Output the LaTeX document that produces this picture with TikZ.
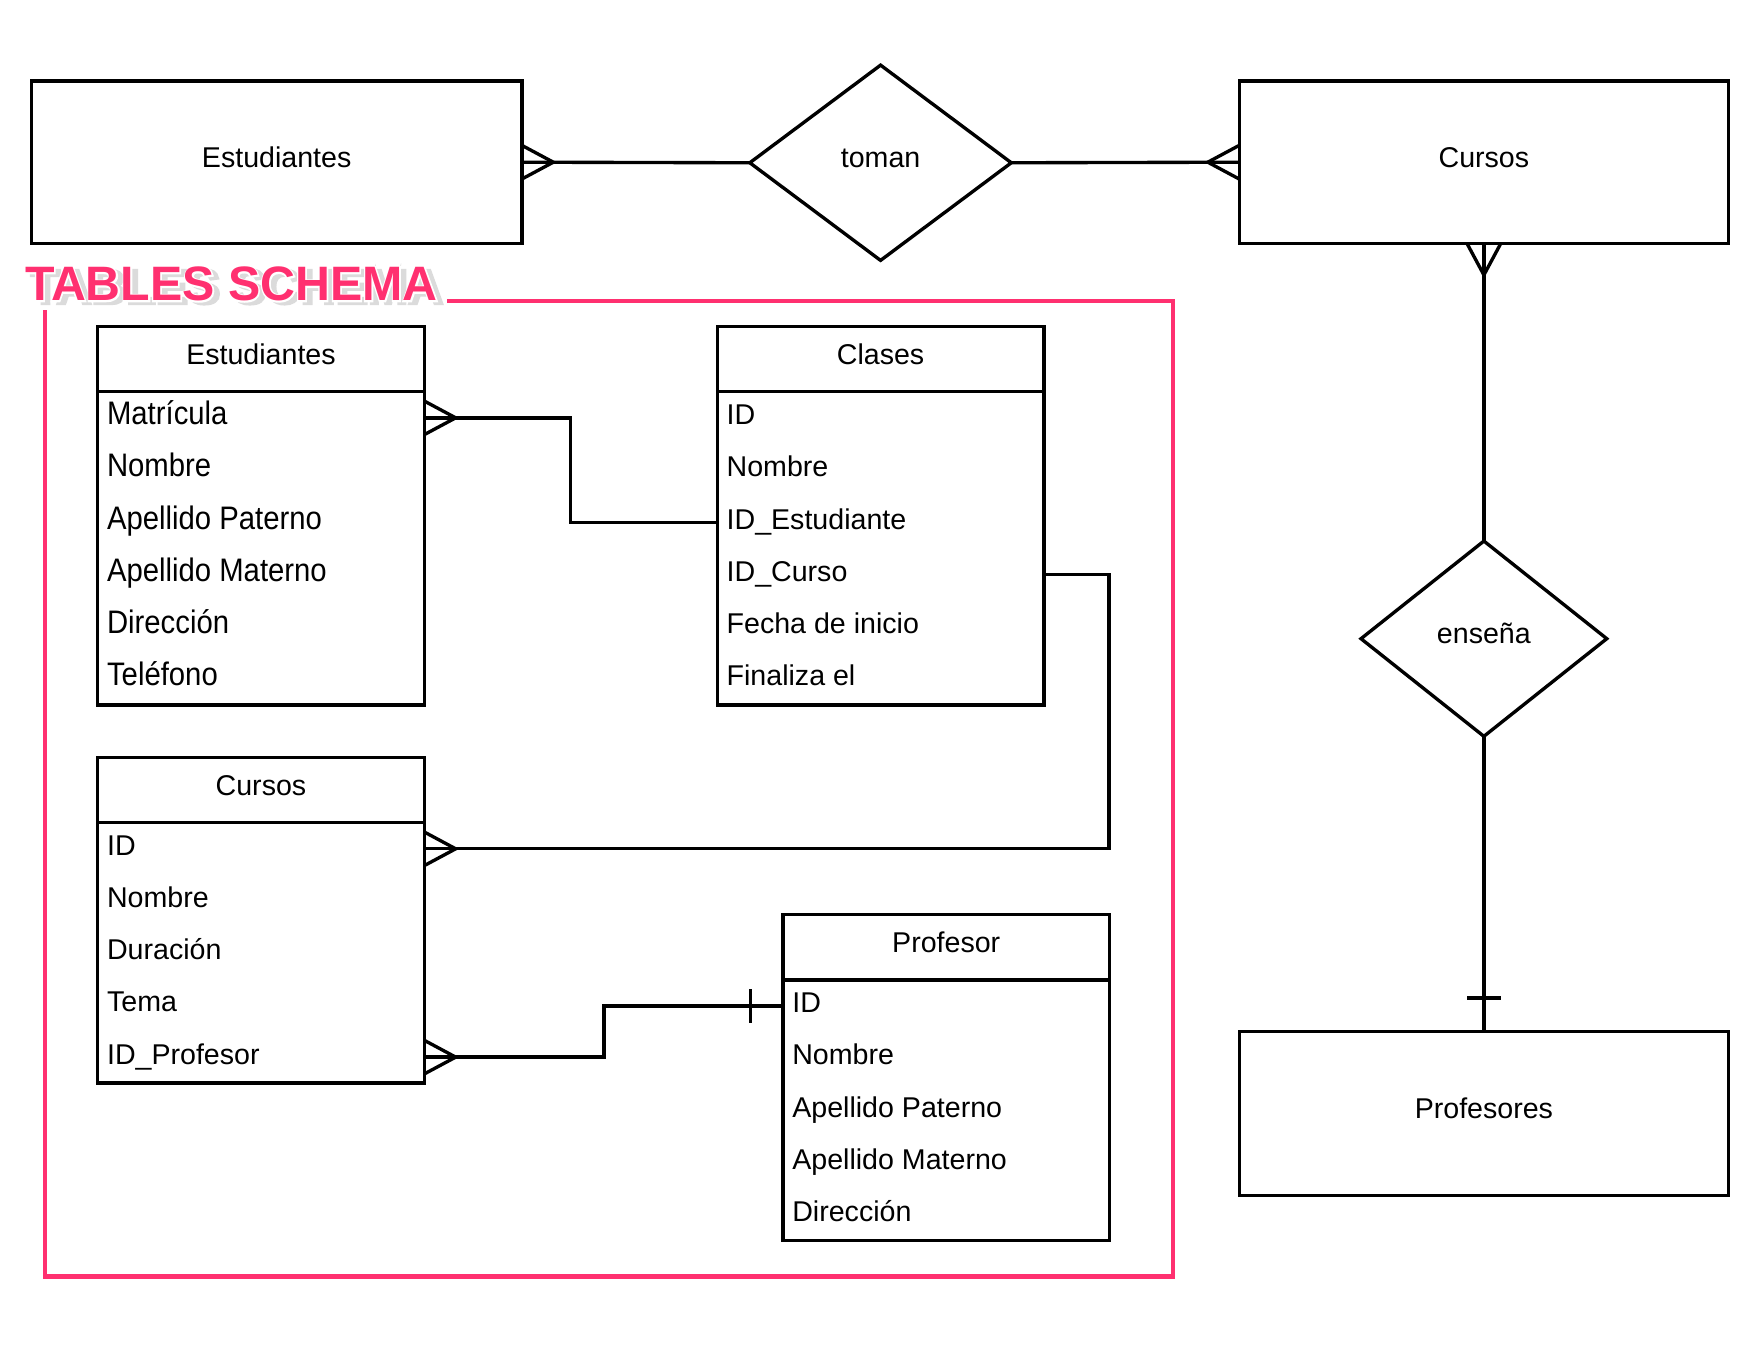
\documentclass[tikz,border=0pt]{standalone}
\usepackage{fontspec}
\setmainfont{Liberation Sans}
\newfontfamily\narrowfont[FakeStretch=0.9]{Liberation Sans}
\newfontfamily\halofont[FakeBold=6]{Liberation Sans Bold}
\usetikzlibrary{calc, positioning, shapes.geometric}
\definecolor{schemapink}{RGB}{255,48,112}
\tikzset{
  entity/.style={draw, line width=1.7pt, outer sep=0pt, minimum width=8.72cm, minimum height=2.9cm, text height=0.75em, text depth=0.25em, font=\fontsize{14.5}{17}\selectfont},
  relation/.style={draw, diamond, line width=1.7pt, outer sep=0pt, inner sep=0pt, minimum height=3.48cm, text height=0.75em, text depth=0.25em, font=\fontsize{14.5}{17}\selectfont},
  thead/.style={draw, line width=1.7pt, outer sep=0pt, minimum width=5.82cm, minimum height=1.16cm, text height=0.75em, text depth=0.25em, font=\fontsize{14.5}{17}\selectfont},
  tbody/.style={draw, line width=1.7pt, outer sep=0pt, minimum width=5.82cm},
  trow/.style={anchor=west, inner sep=0pt, text height=10pt, text depth=3pt, font=\fontsize{14.5}{17}\selectfont},
  conn/.style={line width=1.7pt},
  schemalabel/.style={anchor=base west, inner sep=0pt, font=\halofont\fontsize{24.5}{28}\selectfont},
}
\begin{document}
\begin{tikzpicture}[x=0.02cm, y=-0.02cm]
  \useasboundingbox (0,0) rectangle (1568,1211.6);
  % ER model
  \node[entity, minimum width=8.74cm] (estE) at (246.5,144.5) {Estudiantes};
  \node[relation, minimum width=4.66cm] (toman) at (784.5,145) {toman};
  \node[entity] (curE) at (1322,144.5) {Cursos};
  \node[relation, minimum width=4.38cm] (ense) at (1322,569) {enseña};
  \node[entity, minimum height=2.92cm] (profE) at (1322,992) {Profesores};
  \draw[conn] (estE.east) -- (toman.west);
  \draw[conn] ($(estE.east)+(0,-15)$) -- ++(28,15) -- ++(-28,15);
  \draw[conn] (toman.east) -- (curE.west);
  \draw[conn] ($(curE.west)+(0,-15)$) -- ++(-28,15) -- ++(28,15);
  \draw[conn] (curE.south) -- (ense.north);
  \draw[conn] ($(curE.south)+(-15,0)$) -- ++(15,28) -- ++(15,-28);
  \draw[conn] (ense.south) -- (profE.north);
  \draw[conn] ($(profE.north)+(-15,-30)$) -- ++(30,0);

  % Tables schema frame
  \draw[schemapink, line width=2.3pt] (40,268) rectangle (1045,1137);
  \node[schemalabel, fill=white, inner ysep=3pt, inner xsep=2pt, text=black!14] at (23.5,270.5) {TABLES SCHEMA};
  \node[schemalabel, text=white] (schemahalo) at (22,268) {TABLES SCHEMA};
  \node[schemalabel, text=schemapink, font=\bfseries\fontsize{24.5}{28}\selectfont] (schema) at (22,268) {TABLES SCHEMA};

  % Estudiantes
  \node[thead] (estH) at (232.5,320) {Estudiantes};
  \node[tbody, minimum height=5.58cm, below=0pt of estH] (estB) {};
  \foreach \t [count=\i] in {Matrícula, Nombre, Apellido Paterno, Apellido Materno, Dirección, Teléfono}
    \node[trow, font=\narrowfont\fontsize{16.5}{19}\selectfont] (est\i) at ($(estB.north west)+(8,{46.5*\i-23.25})$) {\t};

  % Clases
  \node[thead] (clH) at (784.5,320) {Clases};
  \node[tbody, minimum height=5.58cm, below=0pt of clH] (clB) {};
  \foreach \t [count=\i] in {ID, Nombre, ID\_Estudiante, ID\_Curso, Fecha de inicio, Finaliza el}
    \node[trow] (cl\i) at ($(clB.north west)+(8,{46.5*\i-23.25})$) {\t};

  % Cursos
  \node[thead] (curH) at (232.5,704) {Cursos};
  \node[tbody, minimum height=4.64cm, below=0pt of curH] (curB) {};
  \foreach \t [count=\i] in {ID, Nombre, Duración, Tema, ID\_Profesor}
    \node[trow] (cur\i) at ($(curB.north west)+(8,{46.4*\i-23.2})$) {\t};

  % Profesor
  \node[thead] (proH) at (843,844) {Profesor};
  \node[tbody, minimum height=4.64cm, below=0pt of proH] (proB) {};
  \foreach \t [count=\i] in {ID, Nombre, Apellido Paterno, Apellido Materno, Dirección}
    \node[trow] (pro\i) at ($(proB.north west)+(8,{46.4*\i-23.2})$) {\t};

  % Relations between tables
  \draw[conn] (estB.east |- est1) -- ++(130,0) |- (clB.west |- cl3);
  \draw[conn] ($(estB.east |- est1)+(0,-15)$) -- ++(28,15) -- ++(-28,15);
  \draw[conn] (clB.east |- cl4) -- ++(58,0) |- (curB.east |- cur1);
  \draw[conn] ($(curB.east |- cur1)+(0,-15)$) -- ++(28,15) -- ++(-28,15);
  \draw[conn] (curB.east |- cur5) -- ++(160,0) |- (proB.west |- pro1);
  \draw[conn] ($(curB.east |- cur5)+(0,-15)$) -- ++(28,15) -- ++(-28,15);
  \draw[conn] ($(proB.west |- pro1)+(-29,-15)$) -- ++(0,30);
\end{tikzpicture}
\end{document}
